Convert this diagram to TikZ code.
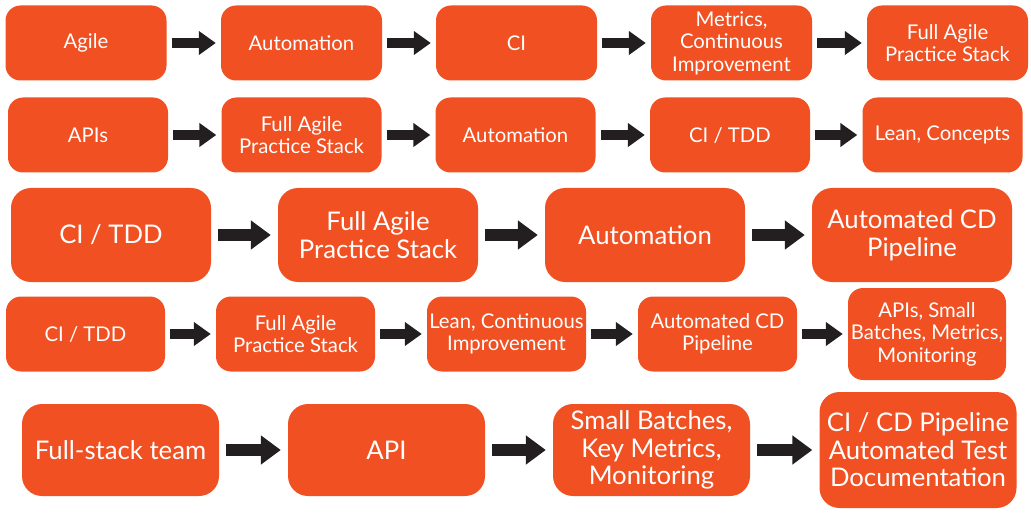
\documentclass[tikz,border=0pt]{standalone}
\usepackage{fontspec}
\setmainfont{Lato}
\usetikzlibrary{arrows.meta}
\definecolor{boxorange}{HTML}{F05022}
\definecolor{arrowdark}{HTML}{231F20}
\tikzset{
  box/.style={fill=boxorange, text=white, align=center, inner sep=0pt, rounded corners=15pt},
  sm/.style={box, minimum width=161pt, minimum height=75pt, font=\fontsize{20.3}{22.5}\selectfont},
  lg/.style={box, minimum width=199pt, minimum height=93pt, rounded corners=20pt, font=\fontsize{25.7}{27.5}\selectfont},
  smarrow/.style={draw=arrowdark, line width=10pt, -{Triangle[length=17pt,width=23pt]}, shorten <=5pt, shorten >=5pt},
  lgarrow/.style={draw=arrowdark, line width=12pt, -{Triangle[length=20pt,width=28pt]}, shorten <=7pt, shorten >=7pt},
}
\begin{document}
\begin{tikzpicture}[x=1pt,y=-1pt]
\useasboundingbox (0,0) rectangle (1031,513);
% Row 1
\node[sm] (a1) at (86,43) {Agile};
\node[sm] (a2) at (301.5,43) {Automation};
\node[sm] (a3) at (516.5,43) {CI};
\node[sm] (a4) at (731.5,43) {Metrics,\\Continuous\\Improvement};
\node[sm] (a5) at (947.5,43) {Full Agile\\Practice Stack};
\draw[smarrow] (a1) -- (a2);
\draw[smarrow] (a2) -- (a3);
\draw[smarrow] (a3) -- (a4);
\draw[smarrow] (a4) -- (a5);
% Row 2
\node[sm, minimum width=160pt] (b1) at (88,135) {APIs};
\node[sm, minimum width=160pt] (b2) at (301.5,135) {Full Agile\\Practice Stack};
\node[sm, minimum width=160pt] (b3) at (515.5,135) {Automation};
\node[sm, minimum width=160pt] (b4) at (730,135) {CI / TDD};
\node[sm, minimum width=160pt] (b5) at (942.5,135) {Lean, Concepts};
\draw[smarrow] (b1) -- (b2);
\draw[smarrow] (b2) -- (b3);
\draw[smarrow] (b3) -- (b4);
\draw[smarrow] (b4) -- (b5);
% Row 3
\node[lg, minimum width=200pt, minimum height=94pt] (c1) at (111,235) {CI / TDD};
\node[lg, minimum width=200pt, minimum height=94pt] (c2) at (378,235) {Full Agile\\Practice Stack};
\node[lg, minimum width=200pt, minimum height=94pt] (c3) at (645,235) {Automation};
\node[lg, minimum width=200pt, minimum height=94pt] (c4) at (912,235) {Automated CD\\Pipeline};
\draw[lgarrow] (c1) -- (c2);
\draw[lgarrow] (c2) -- (c3);
\draw[lgarrow] (c3) -- (c4);
% Row 4
\node[sm, minimum width=159pt] (d1) at (85.5,334) {CI / TDD};
\node[sm, minimum width=159pt] (d2) at (295.5,334) {Full Agile\\Practice Stack};
\node[sm, minimum width=159pt] (d3) at (506.5,334) {Lean, Continuous\\Improvement};
\node[sm, minimum width=159pt] (d4) at (717.5,334) {Automated CD\\Pipeline};
\node[sm, minimum width=158pt, minimum height=92pt] (d5) at (927,334) {APIs, Small\\Batches, Metrics,\\Monitoring};
\draw[smarrow] (d1) -- (d2);
\draw[smarrow] (d2) -- (d3);
\draw[smarrow] (d3) -- (d4);
\draw[smarrow] (d4) -- (d5);
% Row 5
\node[lg, minimum width=197pt, minimum height=92pt] (e1) at (120.5,450) {Full-stack team};
\node[lg, minimum width=197pt, minimum height=92pt] (e2) at (386.5,450) {API};
\node[lg, minimum width=197pt, minimum height=92pt] (e3) at (651.5,450) {Small Batches,\\Key Metrics,\\Monitoring};
\node[lg, minimum width=197pt, minimum height=116pt] (e4) at (918,450) {CI / CD Pipeline\\Automated Test\\Documentation};
\draw[lgarrow] (e1) -- (e2);
\draw[lgarrow] (e2) -- (e3);
\draw[lgarrow] (e3) -- (e4);
\end{tikzpicture}
\end{document}
